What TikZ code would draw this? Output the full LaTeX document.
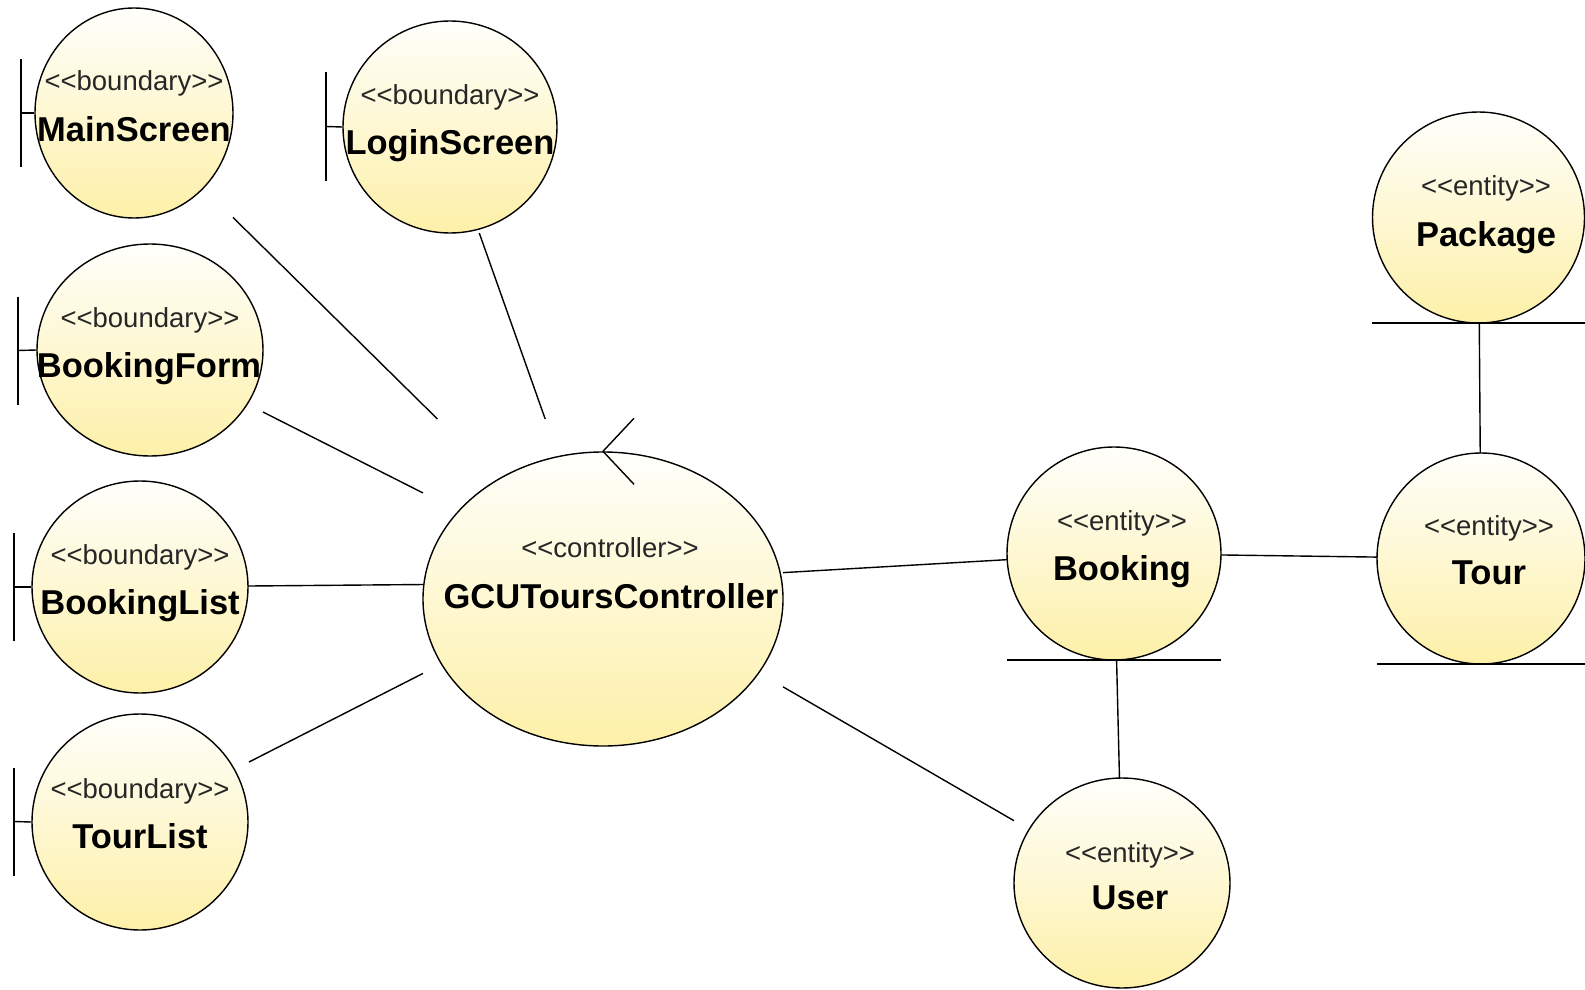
\documentclass[tikz,border=0pt]{standalone}
\usepackage{fontspec}
\setmainfont{Liberation Sans}
\usetikzlibrary{shapes.geometric}
\definecolor{fillTop}{RGB}{255,255,252}
\definecolor{fillBot}{RGB}{253,240,168}
% guillemet-free stereotype brackets
\newcommand\stype[1]{<\kern0pt<#1>\kern0pt>}
\begin{document}
\begin{tikzpicture}[x=1pt,y=-1pt,
  hit/.style={rectangle,draw=none,inner sep=0pt,outer sep=0pt},
  robust/.style={ellipse,draw=black,line width=1.4pt,inner sep=0pt,
    top color=fillTop,bottom color=fillBot},
  stxt/.style={anchor=base,inner sep=0pt,text=black!85,
    font=\fontsize{27.5}{30}\selectfont},
  ntxt/.style={anchor=base,inner sep=0pt,
    font=\fontsize{34.5}{38}\selectfont\bfseries},
  glyph/.style={line width=1.4pt},
  link/.style={line width=1.4pt}]
\fill[white] (0,0) rectangle (1585,990);
\useasboundingbox (0,0) rectangle (1585,990);

% ---------- boundaries ----------
\node[robust,minimum width=198,minimum height=210] (msE) at (134,113) {};
\node[hit,minimum width=212,minimum height=210] (ms) at (127,113) {};
\node[stxt] (msS) at (134,90) {\stype{boundary}};
\node[ntxt] (msN) at (134,141) {MainScreen};

\node[robust,minimum width=214,minimum height=212] (lsE) at (450,127) {};
\node[hit,minimum width=231,minimum height=213] (ls) at (441.5,126.5) {};
\node[stxt] (lsS) at (450,104) {\stype{boundary}};
\node[ntxt] (lsN) at (450,154) {LoginScreen};

\node[robust,minimum width=226,minimum height=212] (bfE) at (150,350) {};
\node[hit,minimum width=245,minimum height=213] (bf) at (140.5,350.5) {};
\node[stxt] (bfS) at (150,327) {\stype{boundary}};
\node[ntxt] (bfN) at (149,377) {BookingForm};

\node[robust,minimum width=216,minimum height=212] (blE) at (140,587) {};
\node[hit,minimum width=234,minimum height=212] (bl) at (131,587) {};
\node[stxt] (blS) at (140,564) {\stype{boundary}};
\node[ntxt] (blN) at (140,614) {BookingList};

\node[robust,minimum width=216,minimum height=216] (tlE) at (140,822) {};
\node[hit,minimum width=235,minimum height=217] (tl) at (131.5,821.5) {};
\node[stxt] (tlS) at (140,798) {\stype{boundary}};
\node[ntxt] (tlN) at (140,848) {TourList};

% boundary glyphs: bar plus tick
\foreach \b/\e in {ms/msE,ls/lsE,bf/bfE,bl/blE,tl/tlE}{
  \draw[glyph] (\e.west) -- (\b.west);
  \draw[glyph] (\b.west) ++(0,-54) -- ++(0,108);
}

% ---------- controller ----------
\node[robust,minimum width=360,minimum height=294] (ctE) at (603,599) {};
\node[hit,minimum width=360,minimum height=328] (ct) at (603,583) {};
\node[stxt] (ctS) at (610,557) {\stype{controller}};
\node[ntxt] (ctN) at (611,608) {GCUToursController};
\draw[glyph] (ctE.north) ++(31,-33) -- (ctE.north) -- ++(31,33);

% ---------- entities ----------
\node[robust,minimum width=214,minimum height=213] (bkE) at (1114,553.5) {};
\node[hit,minimum width=214,minimum height=213] (bk) at (1114,553.5) {};
\node[stxt] (bkS) at (1122,530) {\stype{entity}};
\node[ntxt] (bkN) at (1122,580) {Booking};

\node[robust,minimum width=216,minimum height=210] (usE) at (1122,883) {};
\node[hit,minimum width=216,minimum height=210] (us) at (1122,883) {};
\node[stxt] (usS) at (1130,862) {\stype{entity}};
\node[ntxt] (usN) at (1130,909) {User};

\node[robust,minimum width=212,minimum height=211] (pkE) at (1478.5,217.5) {};
\node[hit,minimum width=213,minimum height=211] (pk) at (1478.5,217.5) {};
\node[stxt] (pkS) at (1486,195) {\stype{entity}};
\node[ntxt] (pkN) at (1486,246) {Package};

\node[robust,minimum width=208,minimum height=211] (trE) at (1481,558.5) {};
\node[hit,minimum width=208,minimum height=211] (tr) at (1481,558.5) {};
\node[stxt] (trS) at (1489,535) {\stype{entity}};
\node[ntxt] (trN) at (1489,584) {Tour};

% entity underlines
\foreach \b in {bk,pk,tr}{
  \draw[glyph] (\b.south west) -- (\b.south east);
}

% ---------- associations ----------
\draw[link] (ms) -- (ct);
\draw[link] (ls) -- (ct);
\draw[link] (bf) -- (ct);
\draw[link] (bl) -- (ct);
\draw[link] (tl) -- (ct);
\draw[link] (ct) -- (bk);
\draw[link] (ct) -- (us);
\draw[link] (bk) -- (tr);
\draw[link] (bk) -- (us);
\draw[link] (pk) -- (tr);
\end{tikzpicture}
\end{document}
